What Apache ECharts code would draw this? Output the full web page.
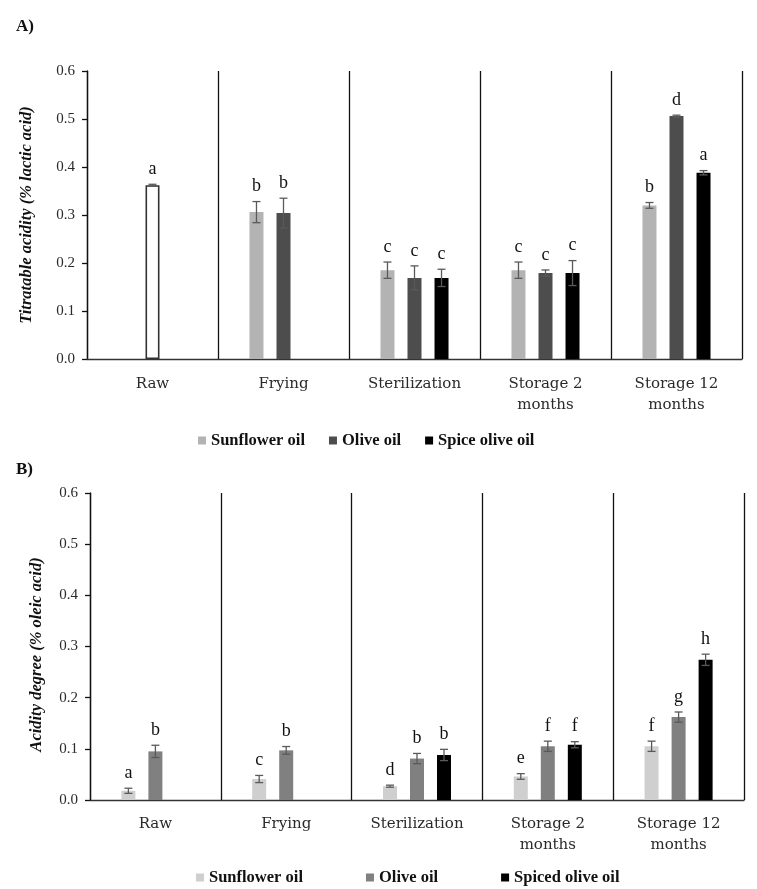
<!DOCTYPE html>
<html>
<head>
<meta charset="utf-8">
<script src="https://cdn.jsdelivr.net/npm/echarts@6/dist/echarts.min.js"></script>
<style>html,body{margin:0;padding:0;background:#fff;}#c{width:757px;height:889px;}</style>
</head>
<body>
<div id="c"></div>
<script>
// ---- Data ----
const categories = ['Raw', 'Frying', 'Sterilization', 'Storage 2\nmonths', 'Storage 12\nmonths'];
const yTicks = [0, 0.1, 0.2, 0.3, 0.4, 0.5, 0.6];

// Panel A: Titratable acidity (% lactic acid)
const aSunflower     = [null, 0.306, 0.185, 0.185, 0.320];
const aSunflowerErr  = [null, 0.022, 0.017, 0.017, 0.006];
const aSunflowerLet  = ['', 'b', 'c', 'c', 'b'];
const aOlive         = [0.362, 0.304, 0.169, 0.179, 0.506];
const aOliveErr      = [0.002, 0.031, 0.025, 0.0065, 0.002];
const aOliveLet      = ['a', 'b', 'c', 'c', 'd'];
const aSpice         = [null, null, 0.169, 0.179, 0.388];
const aSpiceErr      = [null, null, 0.018, 0.026, 0.0045];
const aSpiceLet      = ['', '', 'c', 'c', 'a'];

// Panel B: Acidity degree (% oleic acid)
const bSunflower     = [0.018, 0.041, 0.027, 0.046, 0.105];
const bSunflowerErr  = [0.005, 0.007, 0.002, 0.0055, 0.010];
const bSunflowerLet  = ['a', 'c', 'd', 'e', 'f'];
const bOlive         = [0.095, 0.097, 0.081, 0.105, 0.162];
const bOliveErr      = [0.012, 0.0075, 0.010, 0.010, 0.010];
const bOliveLet      = ['b', 'b', 'b', 'f', 'g'];
const bSpice         = [null, null, 0.088, 0.108, 0.274];
const bSpiceErr      = [null, null, 0.011, 0.006, 0.011];
const bSpiceLet      = ['', '', 'b', 'f', 'h'];

// ---- Styles ----
const SERIF = '"Liberation Serif", "DejaVu Serif", serif';
const CAT_FONT = '"DejaVu Serif", serif';
const BAR_W = 14;
const BAR_GAP = 0.93;
const ERR_COLOR = '#5a5a5a';
const A_COLORS = ['#b3b3b3', '#4d4d4d', '#000000'];
const B_COLORS = ['#cfcfcf', '#808080', '#000000'];

function errData(vals, errs, lets) {
  const out = [];
  vals.forEach((v, i) => { if (v != null) out.push([i, v, errs[i] || 0]); });
  return out;
}

function errRender(slot) {
  return function (params, api) {
    const cat = api.value(0), v = api.value(1), e = api.value(2);
    const base = api.coord([cat, v]);
    const dx = (slot - 1) * BAR_W * (1 + BAR_GAP);
    const x = base[0] + dx;
    const yTop = api.coord([cat, v + e])[1];
    const yBot = api.coord([cat, v - e])[1];
    const cap = 4;
    const st = { stroke: ERR_COLOR, lineWidth: 1.3 };
    const children = [];
    if (e > 0) {
      children.push({ type: 'line', shape: { x1: x, y1: yTop, x2: x, y2: yBot }, style: st });
      children.push({ type: 'line', shape: { x1: x - cap, y1: yTop, x2: x + cap, y2: yTop }, style: st });
      children.push({ type: 'line', shape: { x1: x - cap, y1: yBot, x2: x + cap, y2: yBot }, style: st });
    }
    return { type: 'group', children: children };
  };
}

function letterRender(slot, lets) {
  return function (params, api) {
    const cat = api.value(0), v = api.value(1), e = api.value(2);
    const dx = (slot - 1) * BAR_W * (1 + BAR_GAP);
    const p = api.coord([cat, v + e]);
    return {
      type: 'text',
      style: {
        x: p[0] + dx, y: p[1] - 6,
        text: lets[cat] || '',
        align: 'center', verticalAlign: 'bottom',
        fontFamily: SERIF, fontSize: 18, fill: '#111'
      }
    };
  };
}

function xAxisDef(gi, margin) {
  return {
    type: 'category', gridIndex: gi, data: categories,
    axisLine: { show: true, lineStyle: { color: '#333', width: 1.3 } },
    axisTick: { show: false },
    splitLine: { show: true, lineStyle: { color: '#111', width: 1.3 } },
    axisLabel: { interval: 0, margin: margin, fontFamily: CAT_FONT, fontSize: 15, color: '#2a2a2a', lineHeight: 21 }
  };
}
function yAxisDef(gi, name, gap, pad) {
  return {
    type: 'value', gridIndex: gi, min: 0, max: 0.6, interval: 0.1,
    name: name, nameLocation: 'middle', nameGap: gap, nameRotate: 90,
    nameTextStyle: { fontFamily: SERIF, fontSize: 16.5, fontStyle: 'italic', fontWeight: 'bold', color: '#111', padding: pad },
    axisLine: { show: true, lineStyle: { color: '#111', width: 1.3 } },
    axisTick: { show: true, inside: false, length: 5, lineStyle: { color: '#111', width: 1.3 } },
    splitLine: { show: false },
    axisLabel: { margin: 12, fontFamily: SERIF, fontSize: 15, color: '#2a2a2a', formatter: v => v.toFixed(1) }
  };
}

function barSeries(name, gi, vals, color, overrides) {
  return {
    name: name, type: 'bar', xAxisIndex: gi, yAxisIndex: gi,
    barWidth: BAR_W, barGap: (BAR_GAP * 100) + '%',
    itemStyle: { color: color },
    data: vals.map((v, i) => (overrides && overrides[i]) ? Object.assign({ value: v }, overrides[i]) : v),
    z: 2
  };
}
function errSeries(gi, slot, vals, errs, lets) {
  return [{
    type: 'custom', xAxisIndex: gi, yAxisIndex: gi, renderItem: errRender(slot),
    data: errData(vals, errs, lets), z: 3, silent: true
  }, {
    type: 'custom', xAxisIndex: gi, yAxisIndex: gi, renderItem: letterRender(slot, lets),
    data: errData(vals, errs, lets), z: 3, silent: true
  }];
}

const rawOverride = [{ itemStyle: { color: '#ffffff', borderColor: '#333', borderWidth: 1.6 } }];

const option = {
  animation: false,
  backgroundColor: '#fff',
  title: [
    { text: 'A)', left: 11, top: 13, textStyle: { fontFamily: SERIF, fontSize: 17, fontWeight: 'bold', color: '#111' } },
    { text: 'B)', left: 11, top: 456, textStyle: { fontFamily: SERIF, fontSize: 17, fontWeight: 'bold', color: '#111' } }
  ],
  grid: [
    { left: 87, right: 15, top: 71, height: 288 },
    { left: 90, right: 13, top: 493, height: 307 }
  ],
  legend: [
    {
      left: 193, top: 427, icon: 'rect', itemWidth: 8, itemHeight: 8, itemGap: 24,
      textStyle: { fontFamily: SERIF, fontSize: 16.5, fontWeight: 'bold', color: '#111' },
      data: [
        { name: 'Sunflower oil', itemStyle: { color: A_COLORS[0] } },
        { name: 'Olive oil', itemStyle: { color: A_COLORS[1] } },
        { name: 'Spice olive oil', itemStyle: { color: A_COLORS[2] } }
      ],
      selectedMode: false
    },
    {
      left: 191, top: 864, icon: 'rect', itemWidth: 8, itemHeight: 8, itemGap: 63,
      textStyle: { fontFamily: SERIF, fontSize: 16.5, fontWeight: 'bold', color: '#111' },
      data: [
        { name: 'Sunflower oil', itemStyle: { color: B_COLORS[0] } },
        { name: 'Olive oil', itemStyle: { color: B_COLORS[1] } },
        { name: 'Spiced olive oil', itemStyle: { color: B_COLORS[2] } }
      ],
      selectedMode: false
    }
  ],
  xAxis: [xAxisDef(0, 15), xAxisDef(1, 14)],
  yAxis: [
    yAxisDef(0, 'Titratable acidity (% lactic acid)', 52, [0, 0, 0, 0]),
    yAxisDef(1, 'Acidity degree (% oleic acid)', 45, [0, 16, 0, 0])
  ],
  series: [
    barSeries('Sunflower oil', 0, aSunflower, A_COLORS[0]),
    barSeries('Olive oil', 0, aOlive, A_COLORS[1], rawOverride),
    barSeries('Spice olive oil', 0, aSpice, A_COLORS[2]),
    ...errSeries(0, 0, aSunflower, aSunflowerErr, aSunflowerLet),
    ...errSeries(0, 1, aOlive, aOliveErr, aOliveLet),
    ...errSeries(0, 2, aSpice, aSpiceErr, aSpiceLet),
    barSeries('Sunflower oil', 1, bSunflower, B_COLORS[0]),
    barSeries('Olive oil', 1, bOlive, B_COLORS[1]),
    barSeries('Spiced olive oil', 1, bSpice, B_COLORS[2]),
    ...errSeries(1, 0, bSunflower, bSunflowerErr, bSunflowerLet),
    ...errSeries(1, 1, bOlive, bOliveErr, bOliveLet),
    ...errSeries(1, 2, bSpice, bSpiceErr, bSpiceLet)
  ]
};

const chart = echarts.init(document.getElementById('c'), null, { renderer: 'canvas' });
chart.setOption(option);
</script>
</body>
</html>
